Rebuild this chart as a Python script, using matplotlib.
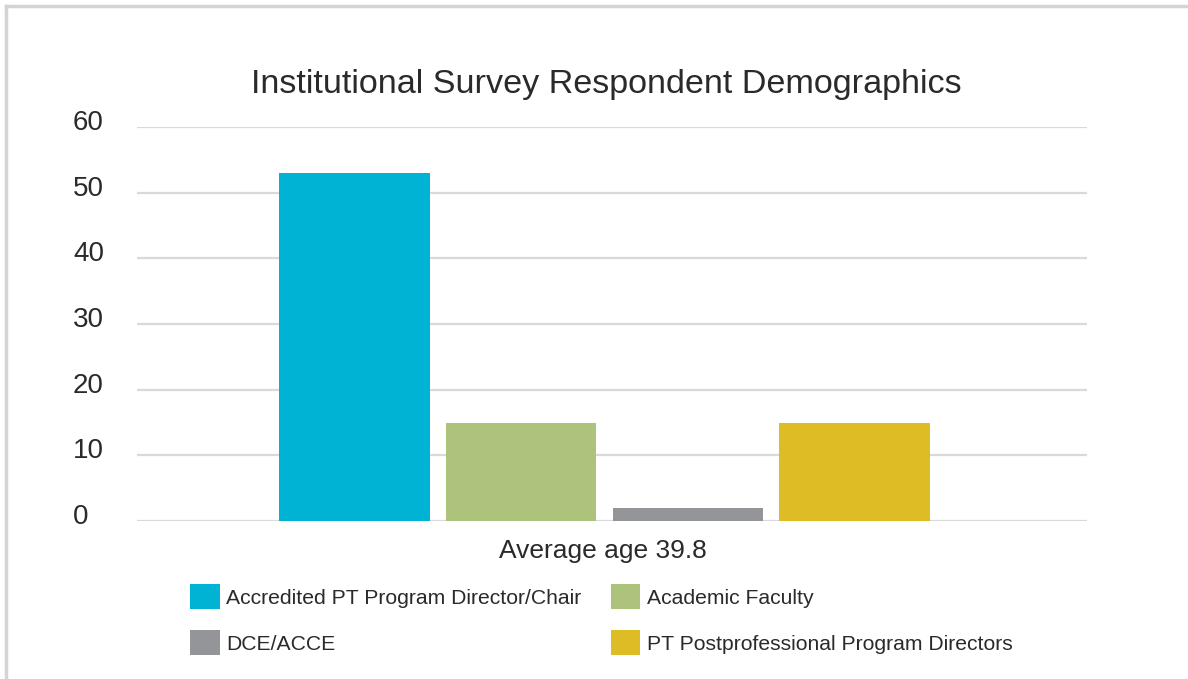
import matplotlib.pyplot as plt
import matplotlib.transforms as mtransforms
from matplotlib.patches import Patch
import numpy as np

plt.rcParams['font.family'] = ['Liberation Sans', 'DejaVu Sans']

# data
groups = ["Accredited PT Program Director/Chair", "Academic Faculty",
          "DCE/ACCE", "PT Postprofessional Program Directors"]
counts = [53, 15, 2, 15]
colors = ["#00B2D3", "#ADC27A", "#939598", "#DDBC26"]
yticks = [0, 10, 20, 30, 40, 50, 60]
xlabel = "Average age 39.8"
title = "Institutional Survey Respondent Demographics"

W, H = 1188, 679
fig = plt.figure(figsize=(W/100, H/100), dpi=100)
ax = fig.add_axes([137/W, 1-521/H, (1087-137)/W, (521-127)/H])

pos = np.arange(len(counts)) - 1.5
ax.bar(pos, counts, width=0.904, color=colors, zorder=3)
ax.set_xlim(-2.80, 2.89)
ax.set_ylim(0, 60)
ax.set_yticks(yticks)
ax.set_xticks([])
ax.yaxis.grid(True, color="#d9d9d9", lw=1.6, zorder=0)
for s in ax.spines.values():
    s.set_visible(False)
ax.tick_params(axis='y', length=0, pad=46, labelsize=20, labelcolor="#2a2a2a")
off = mtransforms.ScaledTranslation(0, 5/72, fig.dpi_scale_trans)
for lab in ax.get_yticklabels():
    lab.set_horizontalalignment('left')
    lab.set_transform(lab.get_transform() + off)
ax.set_xlabel(xlabel, fontsize=19, color="#2a2a2a")
ax.xaxis.set_label_coords((603-137)/(1087-137), -0.045)

fig.text(606/W, 1-85/H, title, ha='center', va='center', fontsize=24.6, color="#2a2a2a")

# legend fills row by row: reorder so pairs sit side by side
order = [0, 2, 1, 3]
handles = [Patch(facecolor=colors[i], edgecolor='none') for i in order]
labels = [groups[i] for i in order]
fig.legend(handles, labels, loc='upper left', bbox_to_anchor=(190/W, 1-584/H),
           ncol=2, frameon=False, fontsize=15.2, borderpad=0, borderaxespad=0,
           handlelength=1.4, handleheight=1.45, handletextpad=0.3,
           columnspacing=1.4, labelspacing=1.0, labelcolor="#2a2a2a")

# light frame round the chart (left and top)
fig.add_artist(plt.Line2D([6/W, 6/W], [0, 1-6/H], color="#d4d4d4", lw=2.5))
fig.add_artist(plt.Line2D([6/W, 1], [1-6/H, 1-6/H], color="#d4d4d4", lw=2.5))

plt.savefig("out.png", dpi=100)
